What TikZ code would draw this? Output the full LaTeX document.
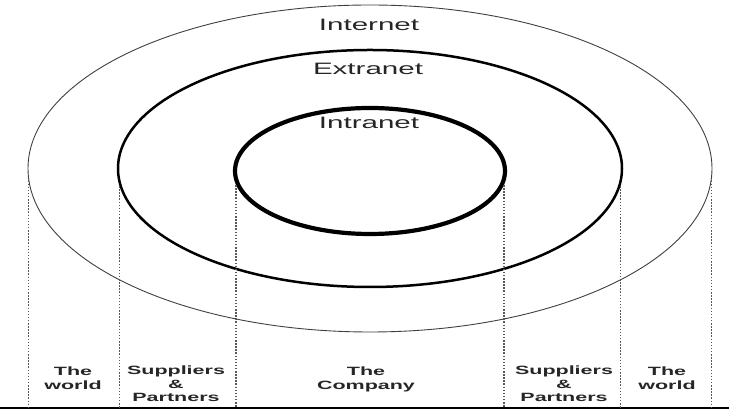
\documentclass[tikz,border=0pt]{standalone}
\usepackage{fontspec}
\setmainfont{Liberation Sans}
\usepackage{graphicx}
\usetikzlibrary{shapes.geometric,calc}
\tikzset{
  ring/.style={draw,ellipse,inner sep=0pt},
  ringlabel/.style={text=black!85,font=\fontsize{16.5}{18}\selectfont,inner sep=0pt},
  zonelabel/.style={text=black!85,font=\fontsize{12}{13.5}\selectfont\bfseries,inner sep=0pt},
  divider/.style={black!65,line width=1.5pt,dash pattern=on 1.5pt off 1.6pt}
}
\newcommand{\widetext}[1]{\scalebox{1.79}[1]{\begin{tabular}{@{}c@{}}#1\end{tabular}}}

\begin{document}
\begin{tikzpicture}[x=1pt,y=1pt]
\useasboundingbox (0,0) rectangle (729,414);
% the three rings
\node[ring,line width=0.9pt,draw=black!75,minimum width=684pt,minimum height=327pt] (internet) at (370,245.5) {};
\node[ring,line width=2.5pt,minimum width=504pt,minimum height=237pt] (extranet) at (370,245.5) {};
\node[ring,line width=4.2pt,minimum width=270pt,minimum height=126pt] (intranet) at (370,243) {};
\node[ringlabel] (lblinternet) at (369,387) {\widetext{Internet}};
\node[ringlabel] (lblextranet) at (368,343) {\widetext{Extranet}};
\node[ringlabel] (lblintranet) at (369,289) {\widetext{Intranet}};
% base line and the dotted dividers
\coordinate (baseL) at (0,6);
\coordinate (baseR) at (729,6);
\draw[line width=1.8pt] (baseL) -- (baseR);
\foreach \ring/\ang in {internet/182,internet/358,extranet/184,extranet/356,intranet/186,intranet/354}
  \draw[divider] (\ring.\ang) -- (\ring.\ang |- baseL);
% zone labels
\node[zonelabel] (worldl) at (73,34) {\widetext{The\\world}};
\node[zonelabel] (partnersl) at (176,28.5) {\widetext{Suppliers\\\&\\Partners}};
\node[zonelabel] (company) at (366,34) {\widetext{The\\Company}};
\node[zonelabel] (partnersr) at (564,28.5) {\widetext{Suppliers\\\&\\Partners}};
\node[zonelabel] (worldr) at (667,34) {\widetext{The\\world}};
\end{tikzpicture}
\end{document}
